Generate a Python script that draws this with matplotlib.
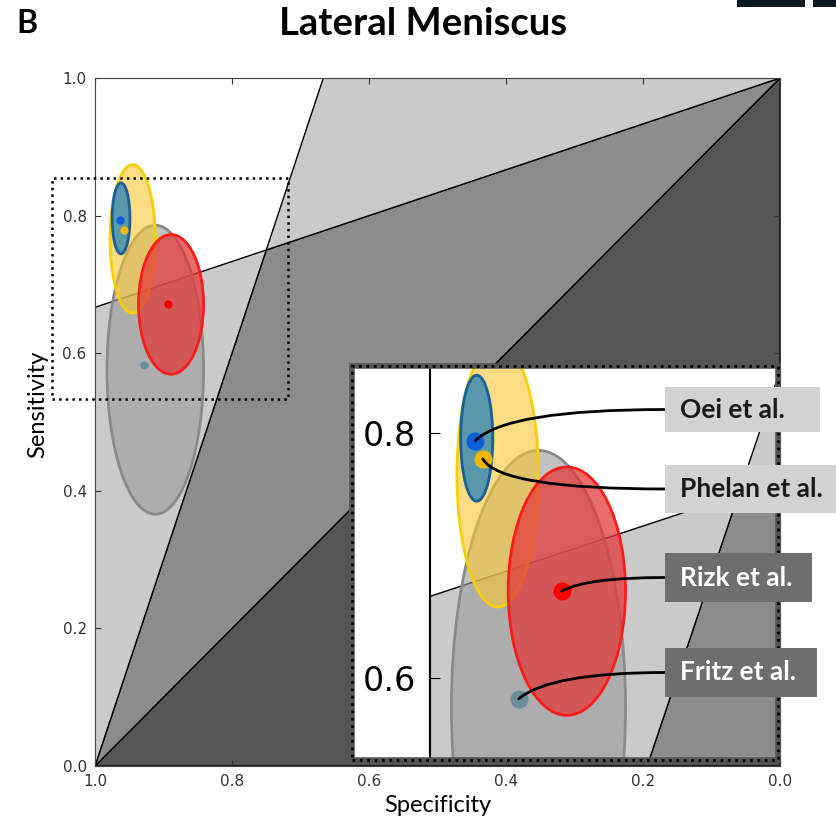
import matplotlib
matplotlib.use("Agg")
import matplotlib.pyplot as plt
from matplotlib.patches import Ellipse, Polygon, Rectangle
from matplotlib.transforms import IdentityTransform

# study estimates (specificity, sensitivity) and confidence ellipses
studies = ["Oei et al.", "Phelan et al.", "Rizk et al.", "Fritz et al."]
spec_pt = [0.963, 0.957, 0.893, 0.928]
sens_pt = [0.794, 0.779, 0.671, 0.583]
ell_spec = [0.962, 0.945, 0.889, 0.912]
ell_sens = [0.796, 0.766, 0.671, 0.576]
ell_w = [0.026, 0.066, 0.095, 0.141]
ell_h = [0.103, 0.216, 0.203, 0.420]

# likelihood-ratio thresholds used for the shaded regions
lr_pos = 3.0
lr_neg = 1.0 / 3.0

ticks = [0.0, 0.2, 0.4, 0.6, 0.8, 1.0]
zoom_spec = (1.063, 0.718)
zoom_sens = (0.533, 0.855)

face = {"Oei et al.": "#3d8db3", "Phelan et al.": "#f5c531",
        "Rizk et al.": "#e23a3a", "Fritz et al.": "#9a9a9a"}
edge = {"Oei et al.": "#1b5e96", "Phelan et al.": "#f7d000",
        "Rizk et al.": "#ff1a1a", "Fritz et al.": "#8a8a8a"}
alpha = {"Oei et al.": 0.85, "Phelan et al.": 0.6,
         "Rizk et al.": 0.75, "Fritz et al.": 0.6}
dot = {"Oei et al.": "#0b5fd8", "Phelan et al.": "#f2b600",
       "Rizk et al.": "#ff0000", "Fritz et al.": "#6a8e9a"}
order = ["Fritz et al.", "Phelan et al.", "Oei et al.", "Rizk et al."]


def draw_regions(ax):
    # crossing point of the LR+ and LR- lines
    s_x = 1 - (1 - lr_neg) / (lr_pos - lr_neg)
    se_x = lr_pos * (1 - s_x)
    top_spec = 1 - 1 / lr_pos
    ax.add_patch(Polygon([(1, 0), (0, 1), (0, 0)], closed=True,
                         fc="#555555", ec="black", lw=1, zorder=1))
    ax.add_patch(Polygon([(1, 0), (s_x, se_x), (0, 1)], closed=True,
                         fc="#8c8c8c", ec="black", lw=1, zorder=1))
    ax.add_patch(Polygon([(1, 0), (1, 1 - lr_neg), (s_x, se_x)], closed=True,
                         fc="#cacaca", ec="black", lw=1, zorder=1))
    ax.add_patch(Polygon([(s_x, se_x), (top_spec, 1), (0, 1)], closed=True,
                         fc="#cacaca", ec="black", lw=1, zorder=1))


def draw_studies(ax, msize):
    for name in order:
        i = studies.index(name)
        ax.add_patch(Ellipse((ell_spec[i], ell_sens[i]), ell_w[i], ell_h[i],
                             fc=face[name], ec="none", alpha=alpha[name], zorder=3))
        ax.add_patch(Ellipse((ell_spec[i], ell_sens[i]), ell_w[i], ell_h[i],
                             fc="none", ec=edge[name], lw=2, zorder=3))
    for name in order:
        i = studies.index(name)
        ax.plot(spec_pt[i], sens_pt[i], "o", color=dot[name], ms=msize,
                mec="none", zorder=4)


fig = plt.figure(figsize=(8.37, 8.25), dpi=100)

ax = fig.add_axes([95 / 837, 1 - 766 / 825, 685 / 837, 688 / 825])
draw_regions(ax)
draw_studies(ax, 6)
ax.set_xlim(1, 0)
ax.set_ylim(0, 1)
ax.set_xticks(ticks)
ax.set_yticks(ticks)
ax.tick_params(direction="in", length=4, top=True, right=True,
               labelsize=11, colors="#333333", pad=6)
for sp in ax.spines.values():
    sp.set_color("#444444")
ax.set_xlabel("Specificity", family="Lato", fontsize=17, labelpad=4)
ax.set_ylabel("Sensitivity", family="Lato", fontsize=17)
ax.yaxis.set_label_coords(-0.068, 0.526)
ax.add_patch(Rectangle((zoom_spec[0], zoom_sens[0]), zoom_spec[1] - zoom_spec[0],
                       zoom_sens[1] - zoom_sens[0], fill=False, ec="black",
                       ls=":", lw=1.8, clip_on=False, zorder=5))

# zoomed inset
axi = fig.add_axes([352 / 837, 1 - 760 / 825, 426 / 837, 394 / 825])
axi.set_facecolor("white")
draw_regions(axi)
draw_studies(axi, 13)
axi.set_xlim(*zoom_spec)
axi.set_ylim(*zoom_sens)
axi.set_xticks([])
axi.set_yticks([0.6, 0.8])
axi.set_yticklabels(["0.6", "0.8"])
for k in ["top", "right", "bottom"]:
    axi.spines[k].set_visible(False)
axi.spines["left"].set_position(("data", 1.0))
axi.spines["left"].set_linewidth(1.5)
axi.tick_params(direction="in", length=7, labelsize=24, pad=10)
axi.add_patch(Rectangle((0, 0), 1, 1, transform=axi.transAxes, fill=False,
                        ec="#555555", lw=4, clip_on=False, zorder=6))
axi.add_patch(Rectangle((0, 0), 1, 1, transform=axi.transAxes, fill=False,
                        ec="black", ls=":", lw=2, clip_on=False, zorder=7))

# label boxes: left x, width, centre y, height (figure pixels, from bottom)
box_x = 665
box_w = {"Oei et al.": 155, "Phelan et al.": 172,
         "Rizk et al.": 147, "Fritz et al.": 152}
box_y = {"Oei et al.": 415.5, "Phelan et al.": 336,
         "Rizk et al.": 247.5, "Fritz et al.": 152.5}
box_h = {"Oei et al.": 45, "Phelan et al.": 48,
         "Rizk et al.": 49, "Fritz et al.": 49}
label_bg = {"Oei et al.": "#d2d2d2", "Phelan et al.": "#d2d2d2",
            "Rizk et al.": "#6e6e6e", "Fritz et al.": "#6e6e6e"}
label_fg = {"Oei et al.": "#1a1a1a", "Phelan et al.": "#1a1a1a",
            "Rizk et al.": "white", "Fritz et al.": "white"}
conn = {"Oei et al.": "angle3,angleA=0,angleB=45",
        "Phelan et al.": "angle3,angleA=0,angleB=-60",
        "Rizk et al.": "angle3,angleA=0,angleB=30",
        "Fritz et al.": "angle3,angleA=0,angleB=40"}
for i, name in enumerate(studies):
    axi.annotate("", xy=(spec_pt[i], sens_pt[i]), xycoords="data",
                 xytext=(box_x, box_y[name]), textcoords="figure pixels",
                 arrowprops=dict(arrowstyle="-", color="black", lw=2,
                                 connectionstyle=conn[name],
                                 shrinkA=0, shrinkB=0),
                 annotation_clip=False, zorder=8)
    fig.patches.append(Rectangle((box_x, box_y[name] - box_h[name] / 2),
                                 box_w[name], box_h[name],
                                 transform=IdentityTransform(),
                                 fc=label_bg[name], ec="none", zorder=9))
    fig.text((box_x + 15) / 837, box_y[name] / 825, name, family="Lato",
             weight="bold", fontsize=19, color=label_fg[name],
             ha="left", va="center", zorder=10)

fig.text(423 / 837, 1 - 35 / 825, "Lateral Meniscus", family="Lato",
         weight="bold", fontsize=27.5, ha="center", va="baseline")
fig.text(16 / 837, 1 - 33 / 825, "B", family="Lato", weight="bold",
         fontsize=23, ha="left", va="baseline")

# cropped blocks from neighbouring panel
fig.patches.append(Rectangle((737 / 837, 1 - 7 / 825), 68 / 837, 7 / 825,
                             transform=fig.transFigure, fc="#0e1a22", ec="none"))
fig.patches.append(Rectangle((813 / 837, 1 - 7 / 825), 24 / 837, 7 / 825,
                             transform=fig.transFigure, fc="#0e1a22", ec="none"))

fig.savefig("out.png", dpi=100, facecolor="white")
